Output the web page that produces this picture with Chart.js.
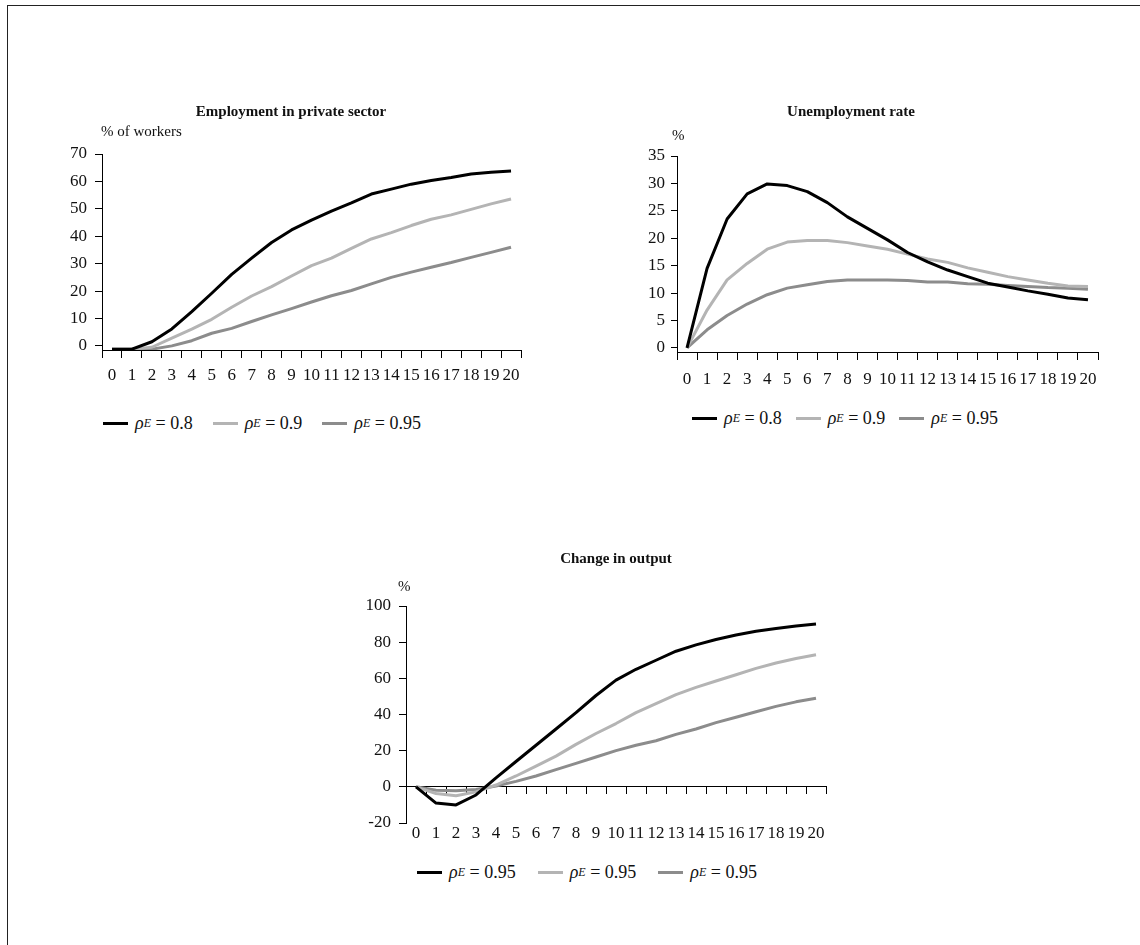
<!DOCTYPE html>
<html>
<head>
<meta charset="utf-8">
<script src="https://cdn.jsdelivr.net/npm/chart.js@4.4.1/dist/chart.umd.min.js"></script>
<style>
  body { margin: 0; background: #fff; }
  #page { position: relative; width: 1140px; height: 945px; overflow: hidden;
          font-family: 'Liberation Serif', 'Times New Roman', serif; color: #111; }
  #frame { position: absolute; left: 7px; top: 5px; width: 1200px; height: 1000px;
           border-top: 1.5px solid #222; border-left: 1.5px solid #222; }
  canvas { position: absolute; }
  .legend { position: absolute; display: flex; align-items: center; height: 20px;
            font-size: 18px; white-space: nowrap; }
  .legend .item { display: flex; align-items: center; }
  .legend .swatch { display: inline-block; width: 25px; height: 3px; margin-right: 7px; }
  .legend i { font-style: italic; }
  .legend sub { font-size: 12px; font-style: italic; vertical-align: -4px; line-height: 0; }
</style>
</head>
<body>
<div id="page">
  <div id="frame"></div>
  <canvas id="employmentChart" width="560" height="320" style="left:0px;top:80px"></canvas>
  <canvas id="unemploymentChart" width="560" height="320" style="left:580px;top:80px"></canvas>
  <canvas id="outputChart" width="560" height="330" style="left:300px;top:530px"></canvas>
  <div class="legend" id="employmentLegend" style="left:103px;top:413px"></div>
  <div class="legend" id="unemploymentLegend" style="left:692px;top:408px"></div>
  <div class="legend" id="outputLegend" style="left:417px;top:862px"></div>
</div>
<script>
// Périodes (axe des x)
const periods = ['0', '1', '2', '3', '4', '5', '6', '7', '8', '9', '10',
                 '11', '12', '13', '14', '15', '16', '17', '18', '19', '20'];

// Légendes (valeurs de rho_E)
const rhoLabels = ['0.8', '0.9', '0.95'];
const outputRhoLabels = ['0.95', '0.95', '0.95'];

// Employment in private sector (% of workers)
const employment08 = [-1.2, -1.2, 1.5, 6.2, 12.5, 19.2, 26.1, 32.0, 37.7, 42.3, 45.9,
                      49.2, 52.2, 55.4, 57.2, 59.0, 60.3, 61.4, 62.7, 63.3, 63.8];
const employment09 = [-1.2, -1.2, -0.5, 2.8, 6.1, 9.7, 14.1, 18.2, 21.6, 25.5, 29.3,
                      32.0, 35.6, 39.0, 41.3, 43.9, 46.2, 47.8, 49.8, 51.8, 53.6];
const employment095 = [-1.2, -1.2, -1.2, 0.0, 1.9, 4.6, 6.4, 8.9, 11.3, 13.6, 16.0,
                       18.3, 20.2, 22.6, 25.0, 26.9, 28.7, 30.4, 32.3, 34.1, 36.0];
const employmentTicks = [0, 10, 20, 30, 40, 50, 60, 70];

// Unemployment rate (%)
const unemployment08 = [0, 14.5, 23.5, 28.1, 29.9, 29.6, 28.5, 26.5, 23.9, 21.8, 19.7,
                        17.4, 15.7, 14.2, 13.0, 11.8, 11.1, 10.4, 9.8, 9.1, 8.8];
const unemployment09 = [0, 6.9, 12.4, 15.4, 18.0, 19.3, 19.6, 19.6, 19.2, 18.6, 18.0,
                        17.1, 16.2, 15.6, 14.6, 13.8, 13.0, 12.4, 11.8, 11.3, 11.2];
const unemployment095 = [0, 3.3, 5.9, 8.0, 9.7, 10.9, 11.5, 12.1, 12.4, 12.4, 12.4,
                         12.3, 12.0, 12.0, 11.7, 11.6, 11.4, 11.2, 11.0, 10.9, 10.7];
const unemploymentTicks = [0, 5, 10, 15, 20, 25, 30, 35];

// Change in output (%)
const outputA = [0, -9, -10, -4.5, 5, 14, 23, 32, 41, 50.5, 59,
                 65, 70, 75, 78.5, 81.5, 84, 86, 87.5, 89, 90];
const outputB = [0, -3.7, -4.9, -2.8, 1, 6, 11.5, 17, 23.5, 29.5, 35,
                 41, 46, 51, 55, 58.5, 62, 65.5, 68.5, 71, 73];
const outputC = [0, -1.9, -2.2, -1.5, 0.5, 3, 6, 9.5, 13, 16.5, 20,
                 23, 25.5, 29, 32, 35.5, 38.5, 41.5, 44.5, 47, 49];
const outputTicks = [-20, 0, 20, 40, 60, 80, 100];

const lineColors = ['#000000', '#b4b4b4', '#8c8c8c'];
const serif = "'Liberation Serif', 'Times New Roman', serif";
const tickFont = { family: serif, size: 17 };

// Titre et unité dessinés sur le canvas
const panelText = {
    id: 'panelText',
    afterDraw(chart, args, opts) {
        const ctx = chart.ctx;
        ctx.save();
        ctx.fillStyle = '#111';
        ctx.textBaseline = 'alphabetic';
        ctx.font = 'bold 15px ' + serif;
        ctx.textAlign = 'center';
        ctx.fillText(opts.title, opts.titleX, opts.titleY);
        ctx.font = '15px ' + serif;
        ctx.textAlign = 'left';
        ctx.fillText(opts.unit, opts.unitX, opts.unitY);
        ctx.restore();
    }
};

function makeDatasets(series) {
    return series.map((values, i) => ({
        data: values,
        borderColor: lineColors[i],
        borderWidth: 3,
        pointRadius: 0,
        tension: 0,
        fill: false,
        borderJoinStyle: 'round'
    }));
}

function yAxis(min, max, tickValues, tickLength, padding) {
    return {
        min: min,
        max: max,
        afterBuildTicks: axis => { axis.ticks = tickValues.map(v => ({ value: v })); },
        afterFit: axis => { axis.width = 40; },
        grid: { drawOnChartArea: false, tickLength: tickLength, color: '#000' },
        border: { color: '#000', width: 1 },
        ticks: { color: '#111', padding: padding, font: tickFont }
    };
}

function xAxis(tickLength, padding, height, position, showLabels) {
    return {
        type: 'category',
        position: position,
        offset: true,
        afterFit: axis => { axis.height = height; },
        grid: { offset: true, drawOnChartArea: false, tickLength: tickLength, color: '#000' },
        border: { color: '#000', width: 1 },
        ticks: { display: showLabels, autoSkip: false, maxRotation: 0, minRotation: 0,
                 padding: padding, color: '#111', font: tickFont }
    };
}

// Axe des étiquettes seul (en bas de la zone du graphique)
function labelAxis(padding, height) {
    return {
        type: 'category',
        position: 'bottom',
        offset: true,
        afterFit: axis => { axis.height = height; },
        grid: { display: false, drawTicks: false },
        border: { display: false },
        ticks: { autoSkip: false, maxRotation: 0, minRotation: 0, padding: padding,
                 color: '#111', font: tickFont }
    };
}

function buildChart(id, series, scales, padding, text) {
    return new Chart(document.getElementById(id), {
        type: 'line',
        data: { labels: periods, datasets: makeDatasets(series) },
        options: {
            responsive: false,
            animation: false,
            layout: { padding: padding },
            plugins: {
                legend: { display: false },
                tooltip: { enabled: false },
                panelText: text
            },
            scales: scales
        },
        plugins: [panelText]
    });
}

function buildLegend(id, labels, gap) {
    const el = document.getElementById(id);
    el.style.gap = gap + 'px';
    el.innerHTML = labels.map((label, i) =>
        `<span class="item"><span class="swatch" style="background:${lineColors[i]}"></span>` +
        `<i>ρ</i><sub>E</sub>&nbsp;=&nbsp;${label}</span>`
    ).join('');
}

buildChart('employmentChart',
    [employment08, employment09, employment095],
    { x: xAxis(8, 7, 50, 'bottom', true), y: yAxis(-1.5, 70, employmentTicks, 7, 8) },
    { left: 62, right: 39, top: 74, bottom: 0 },
    { title: 'Employment in private sector', titleX: 291, titleY: 36,
      unit: '% of workers', unitX: 101, unitY: 56 });

buildChart('unemploymentChart',
    [unemployment08, unemployment09, unemployment095],
    { x: xAxis(8, 9, 48, 'bottom', true), y: yAxis(-0.75, 35, unemploymentTicks, 6, 6) },
    { left: 57, right: 42, top: 76, bottom: 0 },
    { title: 'Unemployment rate', titleX: 271, titleY: 36,
      unit: '%', unitX: 92, unitY: 60 });

buildChart('outputChart',
    [outputA, outputB, outputC],
    { x: xAxis(7, 0, 0, { y: 0 }, false),
      xLabels: labelAxis(0, 37),
      y: yAxis(-20, 100, outputTicks, 7, 8) },
    { left: 66, right: 34, top: 76, bottom: 0 },
    { title: 'Change in output', titleX: 316, titleY: 33,
      unit: '%', unitX: 98, unitY: 61 });

buildLegend('employmentLegend', rhoLabels, 20);
buildLegend('unemploymentLegend', rhoLabels, 14);
buildLegend('outputLegend', outputRhoLabels, 22);
</script>
</body>
</html>
